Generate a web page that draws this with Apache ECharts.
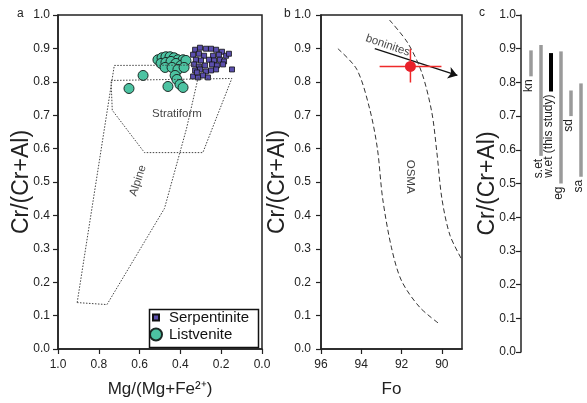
<!DOCTYPE html>
<html><head><meta charset="utf-8">
<script src="https://cdn.jsdelivr.net/npm/echarts@6/dist/echarts.min.js"></script>
<style>html,body{margin:0;padding:0;background:#fff}#c{width:587px;height:403px}</style>
</head><body><div id="c"></div>
<script>
// ---- Panel a data: Mg/(Mg+Fe2+) vs Cr/(Cr+Al)
const serpentinite = [
  [0.328,0.896],[0.304,0.902],[0.275,0.899],[0.250,0.899],[0.225,0.896],[0.196,0.890],
  [0.338,0.881],[0.309,0.884],[0.284,0.878],[0.240,0.878],[0.211,0.881],[0.176,0.878],[0.162,0.884],
  [0.324,0.866],[0.299,0.864],[0.260,0.866],[0.235,0.864],[0.206,0.866],[0.186,0.861],
  [0.333,0.852],[0.309,0.846],[0.279,0.849],[0.245,0.852],[0.221,0.849],[0.191,0.852],
  [0.328,0.834],[0.304,0.837],[0.275,0.831],[0.250,0.834],[0.225,0.837],[0.147,0.837],
  [0.338,0.816],[0.314,0.813],[0.289,0.819],[0.265,0.813],[0.319,0.828]
];
const listvenite = [
  [0.652,0.780],[0.583,0.819],[0.510,0.866],[0.490,0.872],[0.471,0.875],[0.451,0.875],
  [0.431,0.872],[0.412,0.866],[0.387,0.866],[0.495,0.855],[0.471,0.858],[0.446,0.861],
  [0.422,0.855],[0.397,0.849],[0.373,0.864],[0.475,0.843],[0.441,0.843],[0.412,0.837],
  [0.382,0.843],[0.426,0.819],[0.417,0.807],[0.461,0.786],[0.402,0.792],[0.387,0.783]
];
const alpineField = [
  [0.906,0.139],[0.724,0.849],[0.300,0.850],[0.315,0.807],[0.370,0.660],[0.478,0.421],[0.760,0.133],[0.906,0.139]
];
const stratiformField = [
  [0.740,0.804],[0.148,0.810],[0.290,0.588],[0.576,0.588],[0.734,0.715],[0.740,0.804]
];
const fieldLabelsA = [
  {name:'Stratiform', value:[0.417,0.703], rotate:0},
  {name:'Alpine', value:[0.608,0.504], rotate:72}
];

// ---- Panel b data: Fo vs Cr/(Cr+Al)
const osmaLeft = [[95.16,0.899],[94.22,0.837],[93.58,0.718],[93.20,0.600],[92.94,0.451],[92.50,0.303],[92.00,0.204],[91.10,0.125],[90.12,0.075]];
const osmaRight = [[92.60,0.985],[91.70,0.917],[91.00,0.828],[90.50,0.709],[90.25,0.590],[90.00,0.451],[89.60,0.341],[89.00,0.267]];
const thisStudy = [91.56, 0.846];
const foRange = [93.09, 90.02];
const crRange = [0.899, 0.798];
const boninitesTrend = [[93.33,0.899],[89.23,0.819]];
const fieldLabelsB = [
  {name:'OSMA', value:[91.59,0.516], rotate:-90},
  {name:'boninites', value:[92.69,0.909], rotate:-19}
];

// ---- Panel c data: Cr/(Cr+Al) ranges
const cLabels = ['kn','s.et','w.et (this study)','eg','sd','sa'];
const cLow  = [0.818,0.582,0.773,0.500,0.700,0.520];
const cHigh = [0.895,0.911,0.887,0.892,0.776,0.797];

// ---- ticks
const mgTicks = [0,0.2,0.4,0.6,0.8,1.0];
const foTicks = [90,92,94,96];

const FONT = 'Liberation Sans, Arial, Helvetica, sans-serif';
const AX = '#222';
const chart = echarts.init(document.getElementById('c'));

function yAxisCfg(gi, gap, margin){
  return {
    type:'value', gridIndex:gi, min:0, max:1, interval:0.1,
    axisLine:{show:true, onZero:false, lineStyle:{color:AX, width:1.5}},
    axisTick:{show:true, length:5, lineStyle:{color:AX, width:1.2}},
    axisLabel:{fontSize:12, color:AX, margin:margin, formatter:v=>v.toFixed(1)},
    splitLine:{show:false},
    name:'Cr/(Cr+Al)', nameLocation:'middle', nameGap:gap, nameMoveOverlap:false,
    nameTextStyle:{fontSize:23, color:AX}
  };
}

const option = {
  animation:false,
  backgroundColor:'#fff',
  textStyle:{fontFamily:FONT},
  title:[
    {text:'a', left:17, top:8, padding:0, textStyle:{fontSize:12, fontWeight:'normal', color:AX}},
    {text:'b', left:284, top:8, padding:0, textStyle:{fontSize:12, fontWeight:'normal', color:AX}},
    {text:'c', left:479, top:7, padding:0, textStyle:{fontSize:12, fontWeight:'normal', color:AX}}
  ],
  grid:[
    {left:58, top:15, width:204, height:337, show:true, borderColor:AX, borderWidth:1.5, backgroundColor:'transparent'},
    {left:321, top:15, width:141, height:337, show:true, borderColor:AX, borderWidth:1.5, backgroundColor:'transparent'},
    {left:521, top:15, width:70, height:337}
  ],
  legend:[
    {data:['Serpentinite'], left:152, top:310, padding:0, itemWidth:6, itemHeight:6, selectedMode:false,
     textStyle:{fontSize:15, color:'#111', padding:[0,0,0,5]}},
    {data:['Listvenite'], left:149, top:327, padding:0, itemWidth:12, itemHeight:12, selectedMode:false,
     textStyle:{fontSize:15, color:'#111', padding:[0,0,0,2]}}
  ],
  graphic:[
    {type:'rect', left:147, top:307, shape:{width:109, height:38}, style:{fill:'none', stroke:'#111', lineWidth:1.5}, z:10}
  ],
  xAxis:[
    {type:'value', gridIndex:0, min:0, max:1, interval:0.2, inverse:true,
     axisLine:{show:true, onZero:false, lineStyle:{color:AX, width:1.5}},
     axisTick:{show:true, length:5, lineStyle:{color:AX, width:1.2}},
     axisLabel:{fontSize:12, color:AX, margin:10, formatter:v=>v.toFixed(1)},
     splitLine:{show:false},
     name:'Mg/(Mg+Fe²⁺)', nameLocation:'middle', nameGap:32, nameMoveOverlap:false, nameTextStyle:{fontSize:17, color:AX}},
    {type:'value', gridIndex:1, min:89, max:96, inverse:true,
     axisLine:{show:true, onZero:false, lineStyle:{color:AX, width:1.5}},
     axisTick:{show:true, length:5, customValues:foTicks, lineStyle:{color:AX, width:1.2}},
     axisLabel:{fontSize:12, color:AX, margin:10, customValues:foTicks},
     splitLine:{show:false},
     name:'Fo', nameLocation:'middle', nameGap:32, nameMoveOverlap:false, nameTextStyle:{fontSize:17, color:AX}},
    {type:'value', gridIndex:2, min:0, max:6.6, show:false}
  ],
  yAxis:[ yAxisCfg(0,25,8), yAxisCfg(1,32,10), yAxisCfg(2,22,5) ],
  series:[
    {type:'line', name:'Alpine field', xAxisIndex:0, yAxisIndex:0, data:alpineField, symbol:'none', silent:true,
     lineStyle:{color:'#444', width:1, type:[1.5,1.5]}},
    {type:'line', name:'Stratiform field', xAxisIndex:0, yAxisIndex:0, data:stratiformField, symbol:'none', silent:true,
     lineStyle:{color:'#444', width:1, type:[1.5,1.5]}},
    {type:'scatter', name:'Listvenite', xAxisIndex:0, yAxisIndex:0, data:listvenite, symbol:'circle', symbolSize:10,
     itemStyle:{color:'#4cc3a2', borderColor:'#1b2a25', borderWidth:1, opacity:1}},
    {type:'scatter', name:'Serpentinite', xAxisIndex:0, yAxisIndex:0, data:serpentinite, symbol:'rect', symbolSize:5,
     itemStyle:{color:'#5b4fae', borderColor:'#111', borderWidth:0.8, opacity:1}},
    {type:'scatter', name:'labelsA', xAxisIndex:0, yAxisIndex:0, symbolSize:0, silent:true,
     data:fieldLabelsA.map(d=>({name:d.name, value:d.value, label:{rotate:d.rotate}})),
     label:{show:true, position:'inside', formatter:'{b}', fontSize:11.5, color:'#111'}},
    // panel b
    {type:'line', name:'OSMA left', xAxisIndex:1, yAxisIndex:1, data:osmaLeft, symbol:'none', smooth:0.3, silent:true,
     lineStyle:{color:'#333', width:1, type:[5,3]}},
    {type:'line', name:'OSMA right', xAxisIndex:1, yAxisIndex:1, data:osmaRight, symbol:'none', smooth:0.3, silent:true,
     lineStyle:{color:'#333', width:1, type:[5,3]}},
    {type:'lines', name:'boninites', coordinateSystem:'cartesian2d', xAxisIndex:1, yAxisIndex:1, silent:true,
     symbol:['none','arrow'], symbolSize:[0,9],
     lineStyle:{color:'#111', width:1.3, opacity:1},
     data:[{coords:boninitesTrend}]},
    {type:'line', name:'Fo range', xAxisIndex:1, yAxisIndex:1, symbol:'none', silent:true,
     data:[[foRange[0],thisStudy[1]],[foRange[1],thisStudy[1]]], lineStyle:{color:'#ee2a2a', width:1.5}},
    {type:'line', name:'Cr range', xAxisIndex:1, yAxisIndex:1, symbol:'none', silent:true,
     data:[[thisStudy[0],crRange[0]],[thisStudy[0],crRange[1]]], lineStyle:{color:'#ee2a2a', width:1.5}},
    {type:'scatter', name:'this study', xAxisIndex:1, yAxisIndex:1, data:[thisStudy], symbol:'circle', symbolSize:11,
     itemStyle:{color:'#e8202a', opacity:1}, z:5},
    {type:'scatter', name:'labelsB', xAxisIndex:1, yAxisIndex:1, symbolSize:0, silent:true,
     data:fieldLabelsB.map(d=>({name:d.name, value:d.value, label:{rotate:d.rotate}})),
     label:{show:true, position:'inside', formatter:'{b}', fontSize:11.5, color:'#111'}},
    // panel c
    {type:'custom', name:'ranges', xAxisIndex:2, yAxisIndex:2, silent:true,
     data:cLabels.map((l,i)=>[i+1, cLow[i], cHigh[i]]),
     encode:{x:0, y:[1,2]},
     renderItem:function(params, api){
       const i = params.dataIndex;
       const lo = api.coord([api.value(0), api.value(1)]);
       const hi = api.coord([api.value(0), api.value(2)]);
       const isThis = i === 2;
       return {type:'group', children:[
         {type:'line', shape:{x1:lo[0], y1:lo[1], x2:hi[0], y2:hi[1]},
          style:{stroke:isThis?'#000':'#9a9a9a', lineWidth:isThis?4:3.5}},
         {type:'text', x:lo[0]-2, y:lo[1]+3, rotation:Math.PI/2,
          style:{text:cLabels[i], align:'right', verticalAlign:'middle', fontSize:12, fill:'#222', fontFamily:FONT}}
       ]};
     }}
  ]
};
chart.setOption(option);
</script>
</body></html>
